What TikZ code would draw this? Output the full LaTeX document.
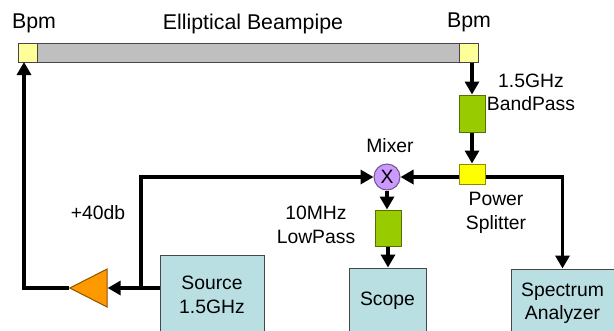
\documentclass[tikz,border=0pt]{standalone}
\usepackage{fontspec}
\setmainfont{Liberation Sans}
\usetikzlibrary{arrows.meta,shapes.geometric}

\tikzset{
 part/.style={draw=#1!55!black,line width=0.75pt,inner sep=0pt},
 pipe/.style={part=gray,fill=gray!50!white},
 bpm/.style={part=gray,fill=paleyellow,minimum width=14.25pt,minimum height=14.25pt},
 filter/.style={part=filtergreen,fill=filtergreen,minimum width=19.5pt},
 instrument/.style={part=gray,fill=paleblue,align=center,lbl},
 lbl/.style={font=\fontsize{14.5}{17.5}\selectfont,align=center,inner sep=0pt},
 biglbl/.style={lbl,font=\fontsize{16}{18}\selectfont},
}
\definecolor{paleyellow}{HTML}{FFFF99}
\definecolor{filtergreen}{HTML}{99CC00}
\definecolor{paleblue}{HTML}{B9DFE3}
\definecolor{splitteryellow}{HTML}{FFFF00}
\definecolor{mixerpurple}{HTML}{CC99FF}
\definecolor{ampgold}{HTML}{FF9900}

\begin{document}
\begin{tikzpicture}[x=0.75pt,y=-0.75pt,>={Triangle[length=9.75pt,width=10.5pt]},line width=2.7pt]
 \clip (0,0) rectangle (614,330);

 \node[pipe,minimum width=345pt,minimum height=14.25pt] (pipe) at (248,52.5) {};
 \node[bpm] (bpmL) at (27.5,52.5) {};
 \node[bpm] (bpmR) at (468.5,52.5) {};
 \node[filter,minimum height=27.75pt] (bandpass) at (472,113.5) {};
 \node[part=splitteryellow,fill=splitteryellow,minimum width=19.5pt,minimum height=15pt] (splitter) at (472,174) {};
 \node[circle,part=mixerpurple,fill=mixerpurple,minimum size=19.5pt,lbl] (mixer) at (387,177) {X};
 \node[filter,minimum height=27pt] (lowpass) at (388,228) {};
 \node[isosceles triangle,isosceles triangle apex angle=54,shape border rotate=180,part=ampgold,fill=ampgold,minimum height=28pt] (amp) at (95.5,288) {};

 \node[instrument,minimum width=78pt,minimum height=60pt] (source) at (212,295) {Source\\1.5GHz};
 \node[instrument,minimum width=57.75pt,minimum height=49.5pt] (scope) at (387.5,301) {Scope};
 \node[instrument,minimum width=77.25pt,minimum height=51pt] (analyzer) at (562.5,303) {Spectrum\\Analyzer};

 \node[biglbl] (bpmLlabel) at (34,23.5) {Bpm};
 \node[biglbl] (pipelabel) at (253,24) {Elliptical Beampipe};
 \node[biglbl] (bpmRlabel) at (469,22.5) {Bpm};
 \node[lbl] (bandlabel) at (531,92.5) {1.5GHz\\BandPass};
 \node[lbl] (mixerlabel) at (390,146) {Mixer};
 \node[lbl] (gainlabel) at (98,213) {+40db};
 \node[lbl] (lowlabel) at (316,225) {10MHz\\LowPass};
 \node[lbl] (splitlabel) at (496,213) {Power\\Splitter};

 \coordinate (branch) at (141,288);
 \coordinate (bpmfoot) at (24,62);

 \draw [->] (bandpass.south) -- (splitter.north);
 \draw [->] (bpmR.south -| bandpass) -- (bandpass.north);
 \draw [->] (mixer.south) -- (mixer.south |- lowpass.north);
 \draw [->] (lowpass.south) -- (lowpass.south |- scope.north);
 \draw [->] (splitter.west |- mixer) -- (mixer.east);
 \draw [->] (splitter.east |- mixer) -| (analyzer.north);
 \draw [->] (source.west |- amp.lower side) -- (amp.lower side);
 \draw [->] (branch) |- (mixer.west);
 \draw [->] (amp.apex) -| (bpmfoot);
\end{tikzpicture}
\end{document}
